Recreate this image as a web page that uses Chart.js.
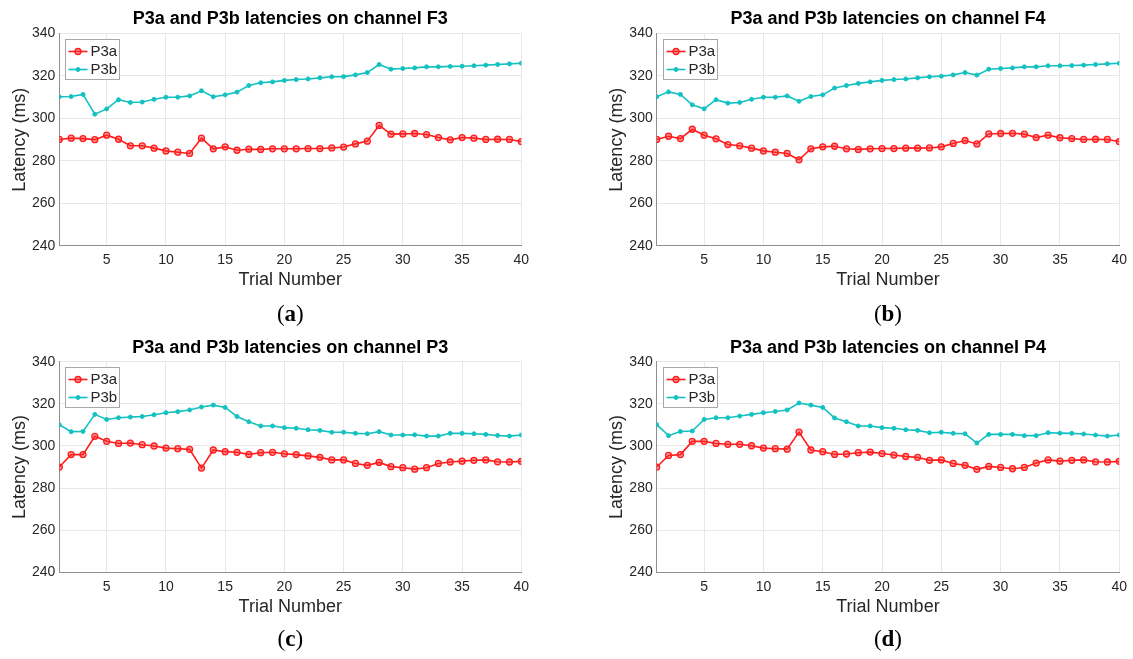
<!DOCTYPE html>
<html>
<head>
<meta charset="utf-8">
<title>P3a and P3b latencies</title>
<script src="https://cdn.jsdelivr.net/npm/chart.js@4.4.1/dist/chart.umd.min.js"></script>
<style>
  html, body { margin: 0; padding: 0; background: #fff; }
  body { width: 1133px; height: 659px; position: relative; overflow: hidden; }
  canvas { position: absolute; }
</style>
</head>
<body>
<canvas id="chartF3"></canvas>
<canvas id="chartF4"></canvas>
<canvas id="chartP3"></canvas>
<canvas id="chartP4"></canvas>
<script>
// trial numbers and axis ticks
const trials = [1, 2, 3, 4, 5, 6, 7, 8, 9, 10, 11, 12, 13, 14, 15, 16, 17, 18, 19, 20,
  21, 22, 23, 24, 25, 26, 27, 28, 29, 30, 31, 32, 33, 34, 35, 36, 37, 38, 39, 40];
const xTicks = [5, 10, 15, 20, 25, 30, 35, 40];
const yTicks = [240, 260, 280, 300, 320, 340];

// latencies (ms) per channel
const f3P3a = [290.1, 290.7, 290.5, 290.0, 292.1, 290.2, 287.1, 287.1, 286.0, 284.7,
  284.1, 283.5, 290.7, 285.7, 286.6, 285.0, 285.5, 285.4, 285.7, 285.7,
  285.7, 285.8, 285.8, 286.1, 286.5, 288.0, 289.3, 296.7, 292.6, 292.7,
  292.9, 292.4, 291.0, 289.9, 291.0, 290.7, 290.1, 290.2, 290.1, 289.1];
const f3P3b = [310.2, 310.3, 311.3, 302.0, 304.5, 308.8, 307.5, 307.7, 309.0, 310.0,
  310.0, 310.6, 313.0, 310.2, 311.1, 312.4, 315.5, 316.8, 317.2, 317.9,
  318.3, 318.6, 319.1, 319.6, 319.7, 320.5, 321.6, 325.4, 323.2, 323.5,
  323.8, 324.3, 324.3, 324.5, 324.6, 324.8, 325.1, 325.4, 325.7, 326.0];

const f4P3a = [290.1, 291.6, 290.5, 294.9, 292.1, 290.4, 287.7, 287.1, 286.0, 284.7,
  284.1, 283.5, 280.5, 285.7, 286.6, 286.9, 285.7, 285.4, 285.7, 285.8,
  285.8, 286.0, 286.0, 286.1, 286.6, 288.2, 289.6, 288.0, 292.7, 292.9,
  293.0, 292.6, 291.0, 292.1, 290.9, 290.5, 290.1, 290.2, 290.1, 289.1];
const f4P3b = [310.2, 312.5, 311.3, 306.4, 304.5, 308.8, 307.2, 307.5, 309.0, 310.0,
  310.0, 310.6, 308.1, 310.3, 311.1, 314.3, 315.5, 316.5, 317.2, 317.9,
  318.3, 318.6, 319.1, 319.6, 319.9, 320.5, 321.6, 320.4, 323.2, 323.5,
  323.8, 324.3, 324.3, 324.8, 324.8, 324.9, 325.1, 325.4, 325.7, 326.0];

const p3P3a = [290.0, 295.9, 295.9, 304.6, 302.2, 301.2, 301.4, 300.6, 300.0, 299.0,
  298.7, 298.4, 289.5, 298.1, 297.3, 297.0, 296.0, 296.8, 297.0, 296.3,
  295.9, 295.3, 294.6, 293.4, 293.4, 291.7, 290.8, 292.2, 290.2, 289.7,
  289.0, 289.7, 291.7, 292.4, 292.8, 293.2, 293.4, 292.5, 292.4, 292.7];
const p3P3b = [310.1, 306.8, 306.9, 315.0, 312.6, 313.4, 313.7, 314.0, 314.8, 315.8,
  316.3, 317.1, 318.5, 319.4, 318.3, 314.0, 311.5, 309.5, 309.5, 308.7,
  308.4, 307.7, 307.4, 306.5, 306.5, 306.0, 305.8, 306.8, 305.2, 305.2,
  305.3, 304.7, 304.7, 306.0, 306.0, 305.8, 305.5, 305.0, 304.7, 305.2];

const p4P3a = [290.0, 295.5, 295.9, 302.2, 302.2, 301.2, 300.8, 300.8, 300.1, 299.0,
  298.7, 298.5, 306.6, 298.1, 297.3, 296.0, 296.2, 296.8, 297.1, 296.4,
  295.7, 295.0, 294.6, 293.2, 293.4, 291.7, 290.8, 288.9, 290.3, 289.8,
  289.2, 289.8, 291.9, 293.4, 292.8, 293.2, 293.4, 292.5, 292.4, 292.7];
const p4P3b = [310.1, 304.9, 306.9, 307.1, 312.6, 313.4, 313.4, 314.2, 315.0, 315.8,
  316.4, 317.1, 320.4, 319.4, 318.3, 313.3, 311.5, 309.5, 309.5, 308.7,
  308.4, 307.7, 307.4, 306.3, 306.5, 306.0, 305.8, 301.4, 305.5, 305.5,
  305.5, 304.9, 304.9, 306.3, 306.1, 306.0, 305.7, 305.2, 304.7, 305.2];

const seriesNames = ["P3a", "P3b"];

const RED = "#ff1c1c";
const CYAN = "#14c1c1";
const TEXT = "#262626";
const SANS = "'Liberation Sans', Arial, Helvetica, sans-serif";

// legend drawn in a framed box in the upper-left corner of the plot
const boxLegend = {
  id: "boxLegend",
  afterDatasetsDraw(chart) {
    const ctx = chart.ctx;
    const area = chart.chartArea;
    const bx = Math.round(area.left + 6) + 0.5;
    const by = Math.round(area.top + 5) + 0.5;
    ctx.save();
    ctx.fillStyle = "#fff";
    ctx.fillRect(bx, by, 54, 40);
    ctx.strokeStyle = "#a8a8a8";
    ctx.lineWidth = 1;
    ctx.strokeRect(bx, by, 54, 40);
    chart.data.datasets.forEach((ds, i) => {
      const cy = by + 12 + i * 18;
      ctx.strokeStyle = ds.borderColor;
      ctx.lineWidth = ds.borderWidth;
      ctx.beginPath();
      ctx.moveTo(bx + 3, cy);
      ctx.lineTo(bx + 22, cy);
      ctx.stroke();
      ctx.beginPath();
      ctx.arc(bx + 12.5, cy, ds.pointRadius, 0, Math.PI * 2);
      ctx.fillStyle = ds.pointBackgroundColor;
      ctx.fill();
      ctx.lineWidth = ds.pointBorderWidth;
      ctx.strokeStyle = ds.pointBorderColor;
      ctx.stroke();
      ctx.fillStyle = TEXT;
      ctx.font = "15px " + SANS;
      ctx.textBaseline = "middle";
      ctx.textAlign = "left";
      ctx.fillText(ds.label, bx + 25, cy + 0.5);
    });
    ctx.restore();
  }
};

// "(a)" style caption under each panel, letter in bold
const caption = {
  id: "caption",
  afterDraw(chart, args, opts) {
    const ctx = chart.ctx;
    const area = chart.chartArea;
    const cx = (area.left + area.right) / 2;
    const cy = area.bottom + opts.offset;
    const regular = "23px 'Liberation Serif', 'Times New Roman', serif";
    const bold = "bold 23px 'Liberation Serif', 'Times New Roman', serif";
    ctx.save();
    ctx.font = regular;
    const wp = ctx.measureText("(").width;
    const wq = ctx.measureText(")").width;
    ctx.font = bold;
    const wl = ctx.measureText(opts.letter).width;
    let x = cx - (wp + wl + wq) / 2;
    ctx.fillStyle = "#000";
    ctx.textBaseline = "middle";
    ctx.textAlign = "left";
    ctx.font = regular;
    ctx.fillText("(", x, cy);
    x += wp;
    ctx.font = bold;
    ctx.fillText(opts.letter, x, cy);
    x += wl;
    ctx.font = regular;
    ctx.fillText(")", x, cy);
    ctx.restore();
  }
};

function makePanel(id, pos, channel, letter, p3a, p3b) {
  const canvas = document.getElementById(id);
  canvas.width = pos.w;
  canvas.height = pos.h;
  canvas.style.left = pos.left + "px";
  canvas.style.top = pos.top + "px";

  const toPoints = (vals) => trials.map((t, i) => ({ x: t, y: vals[i] }));

  return new Chart(canvas.getContext("2d"), {
    type: "line",
    data: {
      datasets: [
        {
          label: seriesNames[0],
          data: toPoints(p3a),
          borderColor: RED,
          borderWidth: 1.6,
          pointRadius: 3,
          pointBackgroundColor: "rgba(255, 40, 40, 0.45)",
          pointBorderColor: RED,
          pointBorderWidth: 1.3,
          tension: 0,
        },
        {
          label: seriesNames[1],
          data: toPoints(p3b),
          borderColor: CYAN,
          borderWidth: 1.6,
          pointRadius: 2,
          pointBackgroundColor: CYAN,
          pointBorderColor: CYAN,
          pointBorderWidth: 1,
          tension: 0,
        },
      ],
    },
    options: {
      responsive: false,
      animation: false,
      events: [],
      layout: {
        padding: { left: pos.padLeft, right: pos.padRight, top: 0, bottom: pos.padBottom },
      },
      plugins: {
        legend: { display: false },
        tooltip: { enabled: false },
        title: {
          display: true,
          fullSize: false,
          text: "P3a and P3b latencies on channel " + channel,
          color: "#000",
          font: { family: SANS, size: 18, weight: "bold" },
          padding: pos.titlePad,
        },
        caption: { letter: letter, offset: pos.captionOffset },
      },
      scales: {
        x: {
          type: "linear",
          min: 1,
          max: 40,
          afterBuildTicks: (scale) => {
            scale.ticks = xTicks.map((v) => ({ value: v }));
          },
          afterFit: (scale) => {
            scale.height = 45;
          },
          grid: { color: "#e8e8e8", drawTicks: false, lineWidth: 1 },
          border: { display: true, color: "#8f8f8f", width: 1 },
          ticks: {
            color: TEXT,
            font: { family: SANS, size: 14 },
            padding: 6,
            maxRotation: 0,
            autoSkip: false,
          },
          title: {
            display: true,
            text: "Trial Number",
            color: TEXT,
            font: { family: SANS, size: 18 },
            padding: 0,
          },
        },
        y: {
          min: yTicks[0],
          max: yTicks[yTicks.length - 1],
          afterBuildTicks: (scale) => {
            scale.ticks = yTicks.map((v) => ({ value: v }));
          },
          afterFit: (scale) => {
            scale.width = 50.3;
          },
          grid: { color: "#e8e8e8", drawTicks: false, lineWidth: 1 },
          border: { display: true, color: "#8f8f8f", width: 1 },
          ticks: {
            color: TEXT,
            font: { family: SANS, size: 14 },
            padding: 4,
          },
          title: {
            display: true,
            text: "Latency (ms)",
            color: TEXT,
            font: { family: SANS, size: 18 },
            padding: 0,
          },
        },
      },
    },
    plugins: [boxLegend, caption],
  });
}

const topRow = { h: 330, top: 0, padBottom: 39.2, titlePad: { top: 7.8, bottom: 4.1 }, captionOffset: 69 };
const bottomRow = { h: 329, top: 330, padBottom: 41.6, titlePad: { top: 6.8, bottom: 3.3 }, captionOffset: 68 };
const leftCol = { left: 0, w: 566, padLeft: 9, padRight: 44.7 };
const rightCol = { left: 597, w: 536, padLeft: 9.4, padRight: 13.7 };

makePanel("chartF3", { ...topRow, ...leftCol }, "F3", "a", f3P3a, f3P3b);
makePanel("chartF4", { ...topRow, ...rightCol }, "F4", "b", f4P3a, f4P3b);
makePanel("chartP3", { ...bottomRow, ...leftCol }, "P3", "c", p3P3a, p3P3b);
makePanel("chartP4", { ...bottomRow, ...rightCol }, "P4", "d", p4P3a, p4P3b);
</script>
</body>
</html>
